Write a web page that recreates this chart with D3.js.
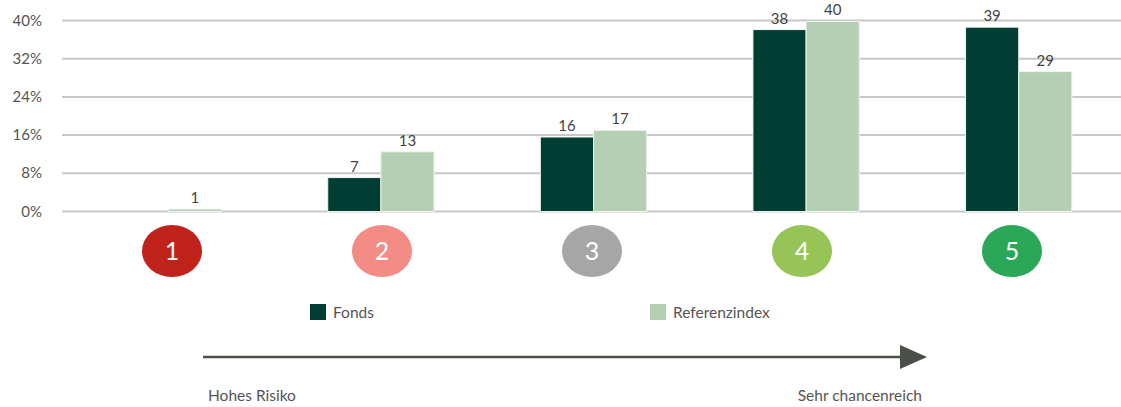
<!DOCTYPE html>
<html><head><meta charset="utf-8">
<script src="https://cdn.jsdelivr.net/npm/d3@7"></script>
<style>body{margin:0;background:#fff}svg{display:block;font-family:Lato,"Open Sans",sans-serif}</style>
</head><body><svg id="c" width="1121" height="407"></svg>
<script>
const categories = ["1","2","3","4","5"];
const fondsValues = [null, 7.1, 15.6, 38.1, 38.6];
const refValues = [0.5, 12.5, 17.0, 39.8, 29.3];
const yTicks = [0, 8, 16, 24, 32, 40];
const seriesNames = ["Fonds", "Referenzindex"];
const seriesColors = ["#003d33", "#b5cfb5"];
const riskColors = ["#c0231b", "#f28c84", "#a6a6a6", "#96c457", "#2aa857"];
const axisLabels = ["Hohes Risiko", "Sehr chancenreich"];

const svg = d3.select("#c");
const x = d3.scaleBand().domain(categories).range([62, 1125]);
const xs = d3.scaleBand().domain(seriesNames).range([0, x.bandwidth()]).paddingOuter(1);
const y = d3.scaleLinear().domain([0, 40]).range([211.5, 20.5]);

// grid
svg.append("g").selectAll("line").data(yTicks).join("line")
  .attr("x1", 62).attr("x2", 1121)
  .attr("y1", d => y(d)).attr("y2", d => y(d))
  .attr("stroke", "#c8c8c8").attr("stroke-width", 2);
svg.append("g").selectAll("text").data(yTicks).join("text")
  .attr("x", 42).attr("y", d => y(d) + 5)
  .attr("text-anchor", "end").attr("font-size", 15).attr("fill", "#555")
  .text(d => d + "%");

const data = [];
categories.forEach((c, i) => {
  data.push({c, s: seriesNames[0], v: fondsValues[i]});
  data.push({c, s: seriesNames[1], v: refValues[i]});
});
const valid = data.filter(d => d.v != null);
const col = d3.scaleOrdinal().domain(seriesNames).range(seriesColors);

svg.append("g").selectAll("rect").data(valid).join("rect")
  .attr("x", d => x(d.c) + xs(d.s))
  .attr("width", xs.bandwidth())
  .attr("y", d => y(d.v))
  .attr("height", d => y(0) - y(d.v))
  .attr("fill", d => col(d.s))
  .attr("stroke", "#eef3ee").attr("stroke-width", 1);

svg.append("g").selectAll("text").data(valid).join("text")
  .attr("x", d => x(d.c) + xs(d.s) + xs.bandwidth() / 2)
  .attr("y", d => y(d.v) - 6)
  .attr("text-anchor", "middle").attr("font-size", 15).attr("fill", "#444")
  .text(d => Math.round(d.v));

// risk circles
const xc = d3.scalePoint().domain(categories).range([172, 1012]);
const g = svg.append("g").selectAll("g").data(categories).join("g")
  .attr("transform", d => `translate(${xc(d)},251)`);
g.append("ellipse").attr("rx", 30).attr("ry", 26)
  .attr("fill", (d, i) => riskColors[i]);
g.append("text").attr("y", 9).attr("text-anchor", "middle")
  .attr("font-size", 25).attr("fill", "#fff").text(d => d);

// legend
const legendX = [310, 650];
const lg = svg.append("g").selectAll("g").data(seriesNames).join("g")
  .attr("transform", (d, i) => `translate(${legendX[i]},304)`);
lg.append("rect").attr("width", 16).attr("height", 16).attr("fill", d => col(d));
lg.append("text").attr("x", 23).attr("y", 14).attr("font-size", 15.5).attr("fill", "#555").text(d => d);

// arrow
svg.append("line").attr("x1", 203).attr("x2", 902).attr("y1", 357).attr("y2", 357)
  .attr("stroke", "#4a4f47").attr("stroke-width", 2.5);
svg.append("path").attr("d", "M900,345 L927,357 L900,369 Z").attr("fill", "#4a4f47");
svg.append("text").attr("x", 208).attr("y", 401).attr("font-size", 15.5).attr("fill", "#555").text(axisLabels[0]);
svg.append("text").attr("x", 922).attr("y", 401).attr("text-anchor", "end").attr("font-size", 15.5).attr("fill", "#555").text(axisLabels[1]);
</script></body></html>
